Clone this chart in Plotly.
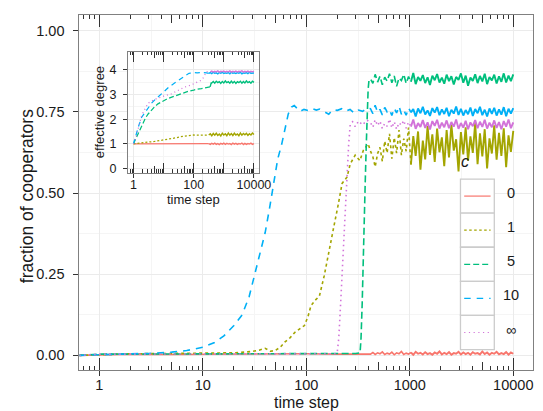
import plotly.graph_objects as go

# ---------------- data ----------------
SERIES = ["0", "1", "5", "10", "∞"]

# shared late time grid (main plot, noisy regime)
T_LATE = [417, 440, 463, 489, 515, 543, 573, 604, 637, 671,
          708, 746, 787, 830, 875, 923, 973, 1026, 1081, 1140,
          1202, 1268, 1337, 1409, 1486, 1567, 1652, 1742, 1837, 1936,
          2042, 2153, 2270, 2393, 2523, 2661, 2805, 2958, 3119, 3289,
          3467, 3656, 3855, 4064, 4285, 4519, 4764, 5023, 5297, 5585,
          5888, 6209, 6546, 6902, 7278, 7674, 8091, 8531, 8995, 9484,
          10000]

# c = 0
T0_E = [0.64, 0.8, 1, 2, 5, 10, 20, 50, 100, 200, 300, 380]
Y0_E = [0.0, 0.001, 0.003, 0.004, 0.003, 0.004, 0.003, 0.004, 0.005, 0.004, 0.005, 0.006]
Y0_L = [0.004, 0.009, 0.003, 0.008, 0.005, 0.011, 0.003, 0.007, 0.004, 0.010,
        0.002, 0.008, 0.005, 0.012, 0.003, 0.007, 0.004, 0.009, 0.002, 0.011,
        0.005, 0.008, 0.003, 0.010, 0.004, 0.007, 0.002, 0.009, 0.005, 0.012,
        0.003, 0.008, 0.004, 0.010, 0.002, 0.007, 0.005, 0.011, 0.003, 0.009,
        0.004, 0.008, 0.002, 0.010, 0.005, 0.007, 0.003, 0.012, 0.004, 0.009,
        0.002, 0.008, 0.005, 0.011, 0.003, 0.007, 0.004, 0.010, 0.002, 0.009,
        0.005]

# c = 1
T1_E = [0.64, 0.8, 1, 2, 5, 10, 20, 30, 35, 40, 45, 50, 56, 62, 70, 77.6, 86, 96,
        104, 111, 122, 134, 149, 166, 185, 202, 222, 248, 266, 297, 330, 356, 396]
Y1_E = [0.0, 0.001, 0.004, 0.005, 0.006, 0.006, 0.008, 0.012, 0.016, 0.022, 0.013,
        0.015, 0.025, 0.041, 0.055, 0.071, 0.080, 0.092, 0.120, 0.153, 0.170, 0.183,
        0.245, 0.316, 0.398, 0.459, 0.530, 0.550, 0.590, 0.617, 0.600, 0.632, 0.652]
Y1_L = [0.630, 0.612, 0.581, 0.622, 0.641, 0.598, 0.660, 0.624, 0.683, 0.606,
        0.671, 0.623, 0.694, 0.617, 0.668, 0.629, 0.702, 0.588, 0.676, 0.615,
        0.690, 0.572, 0.662, 0.604, 0.707, 0.618, 0.681, 0.596, 0.699, 0.626,
        0.672, 0.583, 0.694, 0.610, 0.712, 0.631, 0.666, 0.567, 0.688, 0.619,
        0.703, 0.600, 0.675, 0.624, 0.716, 0.589, 0.684, 0.613, 0.697, 0.576,
        0.669, 0.622, 0.709, 0.603, 0.686, 0.615, 0.700, 0.580, 0.678, 0.627,
        0.692]

# c = 5
T5_E = [0.64, 0.8, 1, 2, 5, 10, 20, 50, 100, 200, 300, 331, 338, 347, 356, 364,
        371, 380, 388, 396, 403]
Y5_E = [0.0, 0.001, 0.004, 0.004, 0.004, 0.004, 0.004, 0.004, 0.005, 0.005, 0.006,
        0.008, 0.052, 0.160, 0.275, 0.400, 0.530, 0.650, 0.765, 0.820, 0.846]
Y5_L = [0.852, 0.838, 0.866, 0.842, 0.860, 0.834, 0.857, 0.845, 0.868, 0.840,
        0.861, 0.829, 0.855, 0.847, 0.866, 0.838, 0.859, 0.843, 0.870, 0.836,
        0.858, 0.846, 0.864, 0.839, 0.857, 0.833, 0.862, 0.848, 0.867, 0.841,
        0.856, 0.837, 0.865, 0.845, 0.860, 0.835, 0.858, 0.849, 0.869, 0.840,
        0.862, 0.831, 0.856, 0.846, 0.866, 0.839, 0.861, 0.844, 0.868, 0.836,
        0.858, 0.847, 0.865, 0.838, 0.860, 0.843, 0.869, 0.841, 0.862, 0.845,
        0.866]

# c = 10
T10_E = [0.64, 0.8, 1, 2, 3, 5, 7, 10, 13, 16, 20, 24, 28, 33, 36, 40, 44, 48.5,
         53, 58, 62, 67, 72, 76.5, 82, 87, 95, 105, 115, 125, 135, 150, 165, 180,
         200, 220, 240, 265, 290, 320, 350, 385]
Y10_E = [0.0, 0.001, 0.004, 0.005, 0.006, 0.010, 0.015, 0.025, 0.040, 0.060, 0.092,
         0.125, 0.180, 0.270, 0.320, 0.377, 0.450, 0.530, 0.605, 0.652, 0.695, 0.744,
         0.765, 0.770, 0.760, 0.752, 0.758, 0.754, 0.760, 0.756, 0.759, 0.750, 0.743,
         0.757, 0.755, 0.760, 0.752, 0.758, 0.747, 0.756, 0.752, 0.762]
Y10_L = [0.760, 0.745, 0.771, 0.748, 0.758, 0.741, 0.764, 0.750, 0.757, 0.739,
         0.762, 0.747, 0.768, 0.743, 0.756, 0.740, 0.763, 0.749, 0.759, 0.736,
         0.761, 0.746, 0.766, 0.742, 0.755, 0.738, 0.762, 0.748, 0.765, 0.740,
         0.758, 0.744, 0.763, 0.737, 0.757, 0.745, 0.767, 0.741, 0.760, 0.739,
         0.756, 0.743, 0.764, 0.738, 0.759, 0.746, 0.766, 0.740, 0.757, 0.736,
         0.761, 0.744, 0.763, 0.739, 0.758, 0.742, 0.765, 0.737, 0.760, 0.745,
         0.762]

# c = infinity
TINF_E = [0.64, 0.8, 1, 2, 5, 10, 20, 50, 100, 150, 190, 199, 206, 214, 222, 228,
          234, 239, 244, 250, 257, 266, 280, 297, 320, 350, 385]
YINF_E = [0.0, 0.001, 0.004, 0.004, 0.004, 0.004, 0.004, 0.004, 0.005, 0.005, 0.005,
          0.008, 0.052, 0.150, 0.255, 0.340, 0.428, 0.490, 0.550, 0.610, 0.652,
          0.713, 0.720, 0.705, 0.722, 0.710, 0.725]
YINF_L = [0.718, 0.703, 0.726, 0.708, 0.722, 0.699, 0.715, 0.706, 0.728, 0.701,
          0.720, 0.697, 0.717, 0.709, 0.724, 0.700, 0.719, 0.705, 0.727, 0.698,
          0.716, 0.704, 0.725, 0.701, 0.718, 0.696, 0.722, 0.707, 0.726, 0.699,
          0.717, 0.703, 0.724, 0.700, 0.719, 0.705, 0.727, 0.698, 0.716, 0.702,
          0.723, 0.697, 0.718, 0.706, 0.725, 0.700, 0.720, 0.704, 0.726, 0.699,
          0.717, 0.703, 0.724, 0.701, 0.719, 0.697, 0.722, 0.705, 0.727, 0.700,
          0.718]

# inset: effective degree
TI_LATE = [316, 355, 398, 447, 501, 562, 631, 708, 794, 891,
           1000, 1122, 1259, 1413, 1585, 1778, 1995, 2239, 2512, 2818,
           3162, 3548, 3981, 4467, 5012, 5623, 6310, 7079, 7943, 8913,
           10000]

D0_T = [1, 3, 10, 30, 100, 200]
D0_E = [1.0, 1.0, 1.0, 1.0, 1.0, 1.0]
D0_L = [1.01, 0.98, 1.02, 0.99, 1.03, 0.98, 1.01, 0.97, 1.02, 0.99, 1.03, 0.98,
        1.02, 0.99, 1.01, 0.97, 1.03, 0.99, 1.02, 0.98, 1.01, 0.99, 1.03, 0.97,
        1.02, 0.98, 1.01, 0.99, 1.03, 0.98, 1.01]

D1_T = [1, 1.5, 2, 3, 5, 8, 12, 18, 27, 37, 55, 80, 100, 150, 220]
D1_E = [1.0, 1.02, 1.04, 1.07, 1.10, 1.14, 1.17, 1.21, 1.25, 1.29, 1.32, 1.35,
        1.36, 1.35, 1.37]
D1_L = [1.36, 1.41, 1.33, 1.42, 1.35, 1.43, 1.34, 1.40, 1.32, 1.43, 1.36, 1.41,
        1.33, 1.44, 1.35, 1.42, 1.34, 1.43, 1.36, 1.40, 1.33, 1.44, 1.35, 1.42,
        1.37, 1.43, 1.34, 1.41, 1.36, 1.44, 1.38]

D5_T = [1, 1.2, 1.45, 1.7, 2.1, 2.5, 3.07, 4, 5, 6.5, 9, 12, 17.7, 25, 35, 47.6,
        70, 100, 129, 180, 250, 351, 370, 385]
D5_E = [1.0, 1.2, 1.41, 1.65, 1.88, 2.05, 2.21, 2.38, 2.5, 2.62, 2.72, 2.8, 2.885,
        2.95, 3.02, 3.09, 3.14, 3.18, 3.22, 3.24, 3.27, 3.31, 3.40, 3.49]
D5_L = [3.47, 3.53, 3.46, 3.54, 3.48, 3.52, 3.45, 3.53, 3.47, 3.55, 3.48, 3.52,
        3.46, 3.54, 3.47, 3.53, 3.45, 3.52, 3.48, 3.54, 3.46, 3.53, 3.47, 3.55,
        3.48, 3.52, 3.46, 3.54, 3.49]

D10_T = [1, 1.2, 1.45, 1.87, 2.5, 3.07, 4, 5.5, 7.5, 10.7, 15, 21, 29, 40, 55, 70,
         89, 100, 130, 170, 220, 270]
D10_E = [1.0, 1.35, 1.68, 2.08, 2.3, 2.48, 2.65, 2.82, 2.98, 3.15, 3.3, 3.43, 3.56,
         3.68, 3.78, 3.86, 3.9, 3.89, 3.88, 3.9, 3.89, 3.88]
D10_L = [3.86, 3.89, 3.85, 3.90, 3.86, 3.88, 3.84, 3.89, 3.86, 3.90, 3.85, 3.88,
         3.86, 3.89, 3.84, 3.90, 3.86, 3.88, 3.85, 3.89, 3.86, 3.90, 3.84, 3.88,
         3.86, 3.89, 3.85, 3.90, 3.86, 3.88, 3.87]

DINF_T = [1, 1.2, 1.5, 1.87, 2.5, 3.07, 5, 8, 12, 17.7, 30, 47.6, 80, 129, 180,
          212, 240, 262]
DINF_E = [1.0, 1.27, 1.7, 2.15, 2.45, 2.65, 2.8, 2.9, 2.97, 3.02, 3.15, 3.29, 3.38,
          3.49, 3.58, 3.69, 3.84, 3.93]
DINF_L = [3.92, 3.95, 3.91, 3.94, 3.92, 3.96, 3.91, 3.94, 3.93, 3.95, 3.91, 3.94,
          3.92, 3.96, 3.91, 3.94, 3.92, 3.95, 3.91, 3.94, 3.93, 3.96, 3.91, 3.94,
          3.92, 3.95, 3.91, 3.94, 3.92, 3.95]

X_TICKS = [1, 10, 100, 1000, 10000]
X_LABELS = ["1", "10", "100", "1000", "10000"]
Y_TICKS = [0, 0.25, 0.5, 0.75, 1.0]
Y_LABELS = ["0.00", "0.25", "0.50", "0.75", "1.00"]
XI_TICKS = [1, 100, 10000]
XI_LABELS = ["1", "100", "10000"]
YI_TICKS = [0, 1, 2, 3, 4]
YI_LABELS = ["0", "1", "2", "3", "4"]

# ---------------- styles ----------------
COLORS = ["#F8766D", "#A3A500", "#00BF7D", "#00B0F6", "#D273D9"]
DASH_MAIN = ["solid", "3px,3px", "7px,3.5px", "7px,6px", "1.5px,3.5px"]
DASH_INSET = ["solid", "2px,2px", "5px,2.5px", "5px,4px", "1px,3px"]
DASH_KEY = ["solid", "2.5px,2.5px", "6px,3px", "6.5px,6px", "1.2px,3.5px"]
FONT = "Liberation Sans, Arial, Helvetica, sans-serif"
TXT = "#1a1a1a"
TICKC = "#333333"
BORDER = "#808080"
GRID = "#EBEBEB"
GRID_MINOR = "#F5F5F5"
SOLID_FROM_MAIN = 1000   # dense sampling beyond this renders as a solid band
SOLID_FROM_INSET = 300

W, H = 543, 411


def PX(x):
    return x / W


def PY(y):
    return 1 - y / H


main_series = [
    (T0_E + T_LATE, Y0_E + Y0_L),
    (T1_E + T_LATE, Y1_E + Y1_L),
    (T5_E + T_LATE, Y5_E + Y5_L),
    (T10_E + T_LATE, Y10_E + Y10_L),
    (TINF_E + T_LATE, YINF_E + YINF_L),
]
inset_series = [
    (D0_T + TI_LATE[-len(D0_L):], D0_E + D0_L),
    (D1_T + TI_LATE[-len(D1_L):], D1_E + D1_L),
    (D5_T + TI_LATE[-len(D5_L):], D5_E + D5_L),
    (D10_T + TI_LATE[-len(D10_L):], D10_E + D10_L),
    (DINF_T + TI_LATE[-len(DINF_L):], DINF_E + DINF_L),
]
for t, y in main_series + inset_series:
    assert len(t) == len(y), (len(t), len(y))


def add_series(fig, t, y, color, width, width_late, dash, split_at, xa, ya, name):
    k = next(j for j, v in enumerate(t) if v >= split_at)
    fig.add_trace(go.Scatter(x=t[:k + 1], y=y[:k + 1], mode="lines", name=name,
                             showlegend=False, hoverinfo="skip",
                             line=dict(color=color, width=width, dash=dash),
                             xaxis=xa, yaxis=ya))
    fig.add_trace(go.Scatter(x=t[k:], y=y[k:], mode="lines", name=name,
                             showlegend=False, hoverinfo="skip",
                             line=dict(color=color, width=width_late, dash="solid"),
                             xaxis=xa, yaxis=ya))


fig = go.Figure()
for i, name in enumerate(SERIES):
    t, y = main_series[i]
    add_series(fig, t, y, COLORS[i], 1.6, 1.9, DASH_MAIN[i], SOLID_FROM_MAIN, "x", "y", name)
for i, name in enumerate(SERIES):
    t, y = inset_series[i]
    add_series(fig, t, y, COLORS[i], 1.25, 1.4, DASH_INSET[i], SOLID_FROM_INSET, "x2", "y2", name)

# geometry
MAIN_XD = [PX(73), PX(536.7)]
MAIN_YD = [PY(365), PY(7)]
MAIN_XR = [-0.192, 4.189]
MAIN_YR = [-0.046, 1.049]
INS_XD = [PX(122.7), PX(256.7)]
INS_YD = [PY(166), PY(44.3)]
INS_XR = [-0.182, 4.169]
INS_YR = [-0.173, 4.724]

LOG_MINOR = [0.7, 0.8, 0.9] + [m * 10 ** k for k in range(4) for m in (2, 3, 4, 6, 7, 8, 9)]
LOG_FIVES = [5, 50, 500, 5000]

tickfont = dict(family=FONT, size=14.5, color=TXT)
tickfont_i = dict(family=FONT, size=12.5, color=TXT)


def logtick_axis(base, anchor, side, rng, major, major_len, minor=None, minor_len=0):
    d = dict(type="log", overlaying=base, anchor=anchor, side=side, range=rng,
             tickmode="array", tickvals=major, ticks="inside", ticklen=major_len,
             tickwidth=1, tickcolor=TICKC, showticklabels=False, showgrid=False,
             showline=False, zeroline=False)
    if minor:
        d["minor"] = dict(tickmode="array", tickvals=minor, ticks="inside",
                          ticklen=minor_len, tickwidth=1, tickcolor=TICKC, showgrid=False)
    return d


# invisible anchors so that the tick-only overlay axes get drawn
for ax_id, ya, yv in [("x3", "y", 0), ("x4", "y", 0), ("x5", "y", 0), ("x6", "y", 0),
                      ("x7", "y2", 1), ("x8", "y2", 1), ("x9", "y2", 1), ("x10", "y2", 1)]:
    fig.add_trace(go.Scatter(x=[1], y=[yv], mode="markers", marker=dict(opacity=0, size=1),
                             showlegend=False, hoverinfo="skip", xaxis=ax_id, yaxis=ya))

layout = dict(
    width=W, height=H, margin=dict(l=0, r=0, t=0, b=0),
    paper_bgcolor="white", plot_bgcolor="white",
    font=dict(family=FONT, color=TXT),
    showlegend=False,
    xaxis=dict(type="log", domain=MAIN_XD, range=MAIN_XR, anchor="y",
               tickmode="array", tickvals=X_TICKS, ticktext=X_LABELS,
               ticks="outside", ticklen=5, tickwidth=1, tickcolor=TICKC,
               tickfont=tickfont, ticklabelstandoff=-4,
               showline=True, linecolor=BORDER, linewidth=1,
               mirror=True, showgrid=True, gridcolor=GRID, gridwidth=1, zeroline=False,
               minor=dict(tickmode="array", tickvals=[3.162, 31.62, 316.2, 3162],
                          showgrid=True, gridcolor=GRID_MINOR, ticks="")),
    yaxis=dict(domain=MAIN_YD, range=MAIN_YR, anchor="x",
               tickmode="array", tickvals=Y_TICKS, ticktext=Y_LABELS,
               ticks="outside", ticklen=5, tickwidth=1, tickcolor=TICKC,
               tickfont=tickfont, ticklabelstandoff=6,
               showline=True, linecolor=BORDER, linewidth=1,
               mirror=True, showgrid=True, gridcolor=GRID, gridwidth=1, zeroline=False,
               minor=dict(tickmode="array", tickvals=[0.125, 0.375, 0.625, 0.875],
                          showgrid=True, gridcolor=GRID_MINOR, ticks="")),
    xaxis2=dict(type="log", domain=INS_XD, range=INS_XR, anchor="y2",
                tickmode="array", tickvals=XI_TICKS, ticktext=XI_LABELS,
                ticks="outside", ticklen=4, tickwidth=1, tickcolor=TICKC,
                tickfont=tickfont_i, ticklabelstandoff=-4,
                showline=True, linecolor=BORDER, linewidth=1,
                mirror=True, showgrid=True, gridcolor=GRID, zeroline=False,
                minor=dict(tickmode="array", tickvals=[10, 1000], showgrid=True,
                           gridcolor=GRID_MINOR, ticks="")),
    yaxis2=dict(domain=INS_YD, range=INS_YR, anchor="x2",
                tickmode="array", tickvals=YI_TICKS, ticktext=YI_LABELS,
                ticks="outside", ticklen=4, tickwidth=1, tickcolor=TICKC,
                tickfont=tickfont_i, ticklabelstandoff=4,
                showline=True, linecolor=BORDER, linewidth=1,
                mirror=True, showgrid=True, gridcolor=GRID, zeroline=False,
                minor=dict(tickmode="array", tickvals=[0.5, 1.5, 2.5, 3.5],
                           showgrid=True, gridcolor=GRID_MINOR, ticks="")),
    xaxis3=logtick_axis("x", "y", "bottom", MAIN_XR, X_TICKS, 12, LOG_MINOR, 4),
    xaxis4=logtick_axis("x", "y", "top", MAIN_XR, X_TICKS, 12, LOG_MINOR, 4),
    xaxis5=logtick_axis("x", "y", "bottom", MAIN_XR, LOG_FIVES, 8),
    xaxis6=logtick_axis("x", "y", "top", MAIN_XR, LOG_FIVES, 8),
    xaxis7=logtick_axis("x2", "y2", "bottom", INS_XR, X_TICKS, 10, LOG_MINOR, 3.5),
    xaxis8=logtick_axis("x2", "y2", "top", INS_XR, X_TICKS, 10, LOG_MINOR, 3.5),
    xaxis9=logtick_axis("x2", "y2", "bottom", INS_XR, LOG_FIVES, 6.5),
    xaxis10=logtick_axis("x2", "y2", "top", INS_XR, LOG_FIVES, 6.5),
)
fig.update_layout(**layout)

annotations = [
    dict(text="fraction of cooperators", x=PX(19), y=PY(190), textangle=-90,
         font=dict(family=FONT, size=17.5, color=TXT)),
    dict(text="time step", x=PX(305), y=PY(397),
         font=dict(family=FONT, size=16, color=TXT)),
    dict(text="effective degree", x=PX(93), y=PY(105), textangle=-90,
         font=dict(family=FONT, size=13, color=TXT)),
    dict(text="time step", x=PX(190), y=PY(192.5),
         font=dict(family=FONT, size=13, color=TXT)),
    dict(text="<i>c</i>", x=PX(467), y=PY(155), font=dict(family=FONT, size=16, color=TXT)),
]
shapes = []
LEG_TOP, LEG_STEP = 172.3, 34.35
for i, name in enumerate(SERIES):
    y0 = LEG_TOP + i * LEG_STEP
    yc = y0 + LEG_STEP / 2
    shapes.append(dict(type="rect", xref="paper", yref="paper", layer="above",
                       x0=PX(462.7), x1=PX(497.3), y0=PY(y0 + LEG_STEP), y1=PY(y0),
                       fillcolor="white", line=dict(color="#CCCCCC", width=1.3)))
    shapes.append(dict(type="line", xref="paper", yref="paper", layer="above",
                       x0=PX(466.5), x1=PX(493.5), y0=PY(yc), y1=PY(yc),
                       line=dict(color=COLORS[i], width=1.2, dash=DASH_KEY[i])))
    annotations.append(dict(text=name, x=PX(514.5), y=PY(yc - 3),
                            font=dict(family=FONT, size=14.5, color=TXT)))
for a in annotations:
    a.update(xref="paper", yref="paper", showarrow=False, xanchor="center",
             yanchor="middle")
fig.update_layout(annotations=annotations, shapes=shapes)

fig.write_html("out.html")
